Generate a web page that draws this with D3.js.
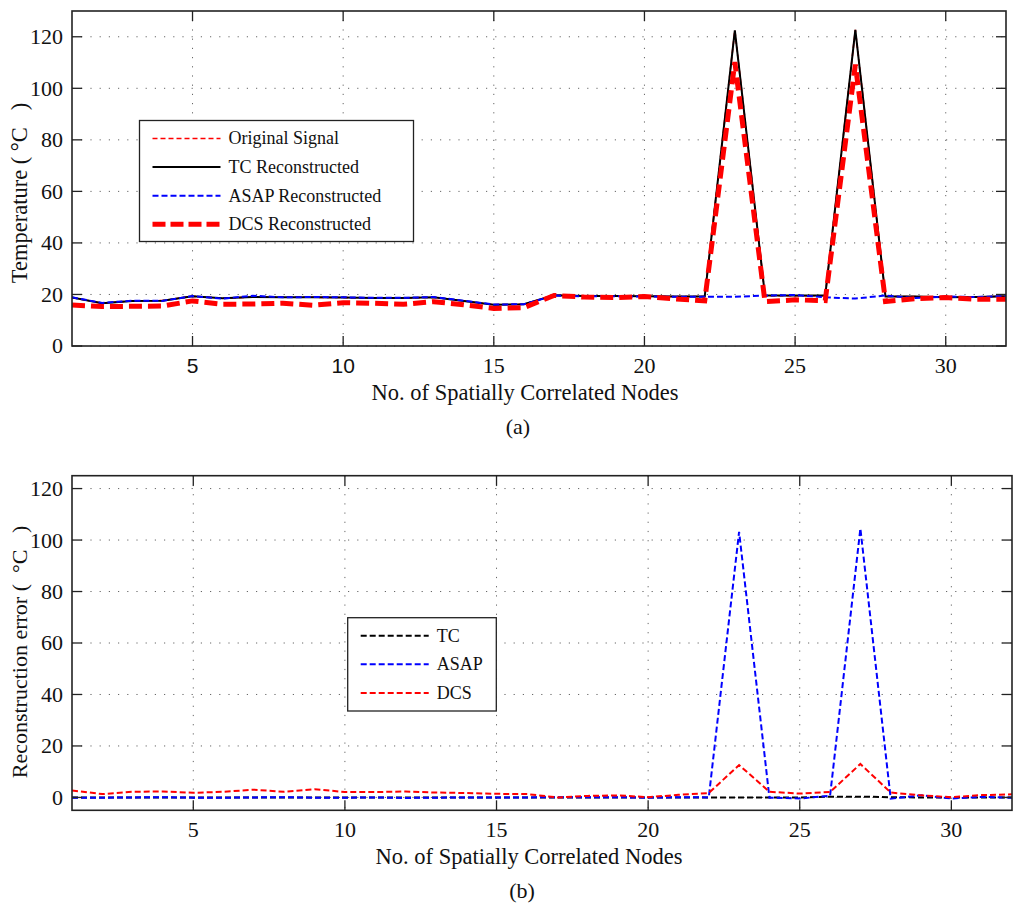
<!DOCTYPE html>
<html>
<head>
<meta charset="utf-8">
<script src="https://cdn.jsdelivr.net/npm/d3@7"></script>
<style>
  body { margin: 0; background: #fff; }
  svg { display: block; }
  text { font-family: "Liberation Serif", "Times New Roman", serif; fill: #111; }
</style>
</head>
<body>
<div id="chart"></div>
<script>
// node index (x categories)
const nodes = [1, 2, 3, 4, 5, 6, 7, 8, 9, 10, 11, 12, 13, 14, 15, 16,
               17, 18, 19, 20, 21, 22, 23, 24, 25, 26, 27, 28, 29, 30, 31, 32];

// panel (a): temperatures
const originalSignal = [18.8, 16.6, 17.5, 17.6, 19.3, 18.5, 19.0, 18.9, 18.9, 18.8, 18.6, 18.6, 18.9, 17.5, 16.0, 16.2,
                        19.7, 19.4, 19.4, 19.3, 19.2, 19.2, 122.5, 19.5, 19.5, 19.5, 122.7, 19.2, 19.2, 18.9, 19.0, 19.3];
const tcReconstructed = [18.8, 16.6, 17.5, 17.6, 19.3, 18.5, 19.0, 18.9, 18.9, 18.8, 18.6, 18.6, 18.9, 17.5, 16.0, 16.2,
                         19.7, 19.4, 19.4, 19.3, 19.2, 19.2, 122.5, 19.6, 19.6, 19.6, 122.7, 19.2, 19.2, 18.9, 19.0, 19.3];
const asapReconstructed = [18.9, 16.7, 17.6, 17.5, 19.4, 18.4, 19.5, 18.9, 19.0, 18.9, 18.7, 18.7, 19.0, 17.6, 16.1, 16.2,
                           19.6, 19.3, 19.3, 19.2, 19.1, 19.1, 19.1, 19.6, 19.8, 18.9, 18.4, 19.6, 18.6, 19.2, 19.0, 19.4];
const dcsReconstructed = [15.9, 15.3, 15.4, 15.5, 17.5, 16.2, 16.3, 16.6, 15.8, 16.8, 16.6, 16.2, 17.2, 16.0, 14.6, 14.9,
                          19.6, 19.0, 18.8, 19.2, 18.3, 17.5, 110.2, 17.2, 17.9, 17.6, 109.2, 17.3, 18.4, 18.8, 18.1, 18.1];

// panel (b): reconstruction errors
const tcError = [0, 0, 0, 0, 0, 0, 0, 0, 0, 0, 0, 0, 0, 0, 0, 0,
                 0, 0, 0, 0, 0, 0, 0, 0, 0, 0.3, 0.3, 0.1, 0, 0, 0, 0];
const asapError = [-0.1, -0.1, 0, 0.1, -0.1, -0.1, 0, 0.1, -0.1, -0.1, 0, -0.2, -0.1, 0, 0, 0,
                   0.1, 0.1, 0.1, -0.1, 0.1, 0, 103.2, -0.1, -0.4, 0.6, 104.5, -0.5, 0.8, -0.4, 0.2, -0.1];
const dcsError = [2.7, 1.3, 2.2, 2.3, 1.8, 2.2, 3.0, 2.2, 3.2, 2.1, 2.1, 2.3, 1.9, 1.7, 1.4, 1.3,
                  0, 0.6, 0.8, 0.1, 1.0, 1.7, 12.6, 2.2, 1.5, 2.1, 13.0, 1.9, 0.8, 0.1, 0.9, 1.2];

// axis ticks
const xTicks = [5, 10, 15, 20, 25, 30];
const yTicks = [0, 20, 40, 60, 80, 100, 120];

const width = 1024, height = 913;

const svg = d3.select("#chart").append("svg")
    .attr("width", width)
    .attr("height", height);

function drawPanel(cfg) {
    const x = d3.scaleLinear().domain([1, 32]).range([cfg.left, cfg.right]);
    const y = d3.scaleLinear().domain(cfg.yDomain).range([cfg.bottom, cfg.top]);
    const g = svg.append("g");

    g.append("clipPath").attr("id", cfg.id + "-clip")
        .append("rect")
        .attr("x", cfg.left).attr("y", cfg.top)
        .attr("width", cfg.right - cfg.left).attr("height", cfg.bottom - cfg.top);

    // dotted grid
    g.selectAll(".vgrid").data(xTicks).enter().append("line")
        .attr("x1", d => x(d)).attr("x2", d => x(d))
        .attr("y1", cfg.top).attr("y2", cfg.bottom)
        .attr("stroke", "#666").attr("stroke-width", 1)
        .attr("stroke-dasharray", "1.2,8");
    g.selectAll(".hgrid").data(yTicks).enter().append("line")
        .attr("x1", cfg.left).attr("x2", cfg.right)
        .attr("y1", d => y(d)).attr("y2", d => y(d))
        .attr("stroke", "#666").attr("stroke-width", 1)
        .attr("stroke-dasharray", "1.2,8");

    // series
    const line = d3.line().x((d, i) => x(nodes[i])).y(d => y(d));
    const lines = g.append("g").attr("clip-path", `url(#${cfg.id}-clip)`);
    cfg.series.forEach(s => {
        lines.append("path")
            .datum(s.values)
            .attr("d", line)
            .attr("fill", "none")
            .attr("stroke", s.color)
            .attr("stroke-width", s.width)
            .attr("stroke-dasharray", s.dash)
            .attr("stroke-linejoin", "miter");
    });

    // frame and inward ticks on all sides
    g.append("rect")
        .attr("x", cfg.left).attr("y", cfg.top)
        .attr("width", cfg.right - cfg.left).attr("height", cfg.bottom - cfg.top)
        .attr("fill", "none").attr("stroke", "#222").attr("stroke-width", 1.6);
    const tl = 10;
    xTicks.forEach(t => {
        g.append("line").attr("x1", x(t)).attr("x2", x(t))
            .attr("y1", cfg.bottom).attr("y2", cfg.bottom - tl)
            .attr("stroke", "#222").attr("stroke-width", 1.3);
        g.append("line").attr("x1", x(t)).attr("x2", x(t))
            .attr("y1", cfg.top).attr("y2", cfg.top + tl)
            .attr("stroke", "#222").attr("stroke-width", 1.3);
    });
    yTicks.forEach(t => {
        g.append("line").attr("x1", cfg.left).attr("x2", cfg.left + tl)
            .attr("y1", y(t)).attr("y2", y(t))
            .attr("stroke", "#222").attr("stroke-width", 1.3);
        g.append("line").attr("x1", cfg.right).attr("x2", cfg.right - tl)
            .attr("y1", y(t)).attr("y2", y(t))
            .attr("stroke", "#222").attr("stroke-width", 1.3);
    });

    // tick labels
    g.selectAll(".xlab").data(xTicks).enter().append("text")
        .attr("x", d => x(d)).attr("y", cfg.bottom + 27)
        .attr("text-anchor", "middle")
        .style("font-size", d => cfg.sansTicks.includes(d) ? "21px" : "22px")
        .style("font-family", d => cfg.sansTicks.includes(d) ? "'Liberation Sans', Arial, sans-serif" : null)
        .text(d => d);
    g.selectAll(".ylab").data(yTicks).enter().append("text")
        .attr("x", cfg.left - 9).attr("y", d => y(d))
        .attr("dy", "0.34em")
        .attr("text-anchor", "end")
        .style("font-size", "22px")
        .text(d => d);

    // axis titles
    g.append("text")
        .attr("x", cfg.xLabelX).attr("y", cfg.bottom + 54)
        .attr("text-anchor", "middle").style("font-size", "22.5px")
        .text("No. of Spatially Correlated Nodes");
    g.append("text")
        .attr("x", cfg.xLabelX - 7).attr("y", cfg.bottom + 88)
        .attr("text-anchor", "middle").style("font-size", "22px")
        .text(cfg.caption);
    g.append("text")
        .attr("transform", `translate(27,${cfg.yLabelY}) rotate(-90)`)
        .attr("text-anchor", "middle").style("font-size", cfg.yLabelSize)
        .style("white-space", "pre")
        .attr("xml:space", "preserve")
        .text(cfg.yLabel);

    // legend
    const lg = cfg.legend;
    g.append("rect")
        .attr("x", lg.x).attr("y", lg.y)
        .attr("width", lg.w).attr("height", lg.h)
        .attr("fill", "#fff").attr("stroke", "#222").attr("stroke-width", 1.3);
    cfg.series.forEach((s, i) => {
        const ly = lg.y + 18 + i * 28.6;
        g.append("line")
            .attr("x1", lg.x + 13).attr("x2", lg.x + 81)
            .attr("y1", ly).attr("y2", ly)
            .attr("stroke", s.color)
            .attr("stroke-width", s.width)
            .attr("stroke-dasharray", s.legendDash || s.dash);
        g.append("text")
            .attr("x", lg.x + 89).attr("y", ly).attr("dy", "0.33em")
            .style("font-size", "18px")
            .text(s.name);
    });
}

drawPanel({
    id: "a",
    left: 72, right: 1006, top: 11, bottom: 346,
    yDomain: [0, 130],
    sansTicks: [5, 10],
    xLabelX: 525,
    caption: "(a)",
    yLabel: "Temperature ( \u00B0C   )",
    yLabelY: 193,
    yLabelSize: "22.5px",
    legend: { x: 139.5, y: 120.5, w: 274, h: 121 },
    series: [
        { name: "Original Signal", values: originalSignal, color: "#ff0000", width: 1.6, dash: "5,3" },
        { name: "TC Reconstructed", values: tcReconstructed, color: "#000", width: 2, dash: null },
        { name: "ASAP Reconstructed", values: asapReconstructed, color: "#0000ff", width: 2, dash: "6,3" },
        { name: "DCS Reconstructed", values: dcsReconstructed, color: "#ff0000", width: 5, dash: "13,6", legendDash: "13,5" }
    ]
});

drawPanel({
    id: "b",
    left: 72, right: 1012, top: 475.7, bottom: 810.3,
    yDomain: [-5, 125],
    sansTicks: [],
    xLabelX: 529,
    caption: "(b)",
    yLabel: "Reconstruction error (  \u00B0C   )",
    yLabelY: 652,
    yLabelSize: "22px",
    legend: { x: 347.7, y: 617.7, w: 148.6, h: 93.3 },
    series: [
        { name: "TC", values: tcError, color: "#000", width: 2, dash: "6,3" },
        { name: "ASAP", values: asapError, color: "#0000ff", width: 2, dash: "6,3" },
        { name: "DCS", values: dcsError, color: "#ff0000", width: 2, dash: "6,3" }
    ]
});
</script>
</body>
</html>
